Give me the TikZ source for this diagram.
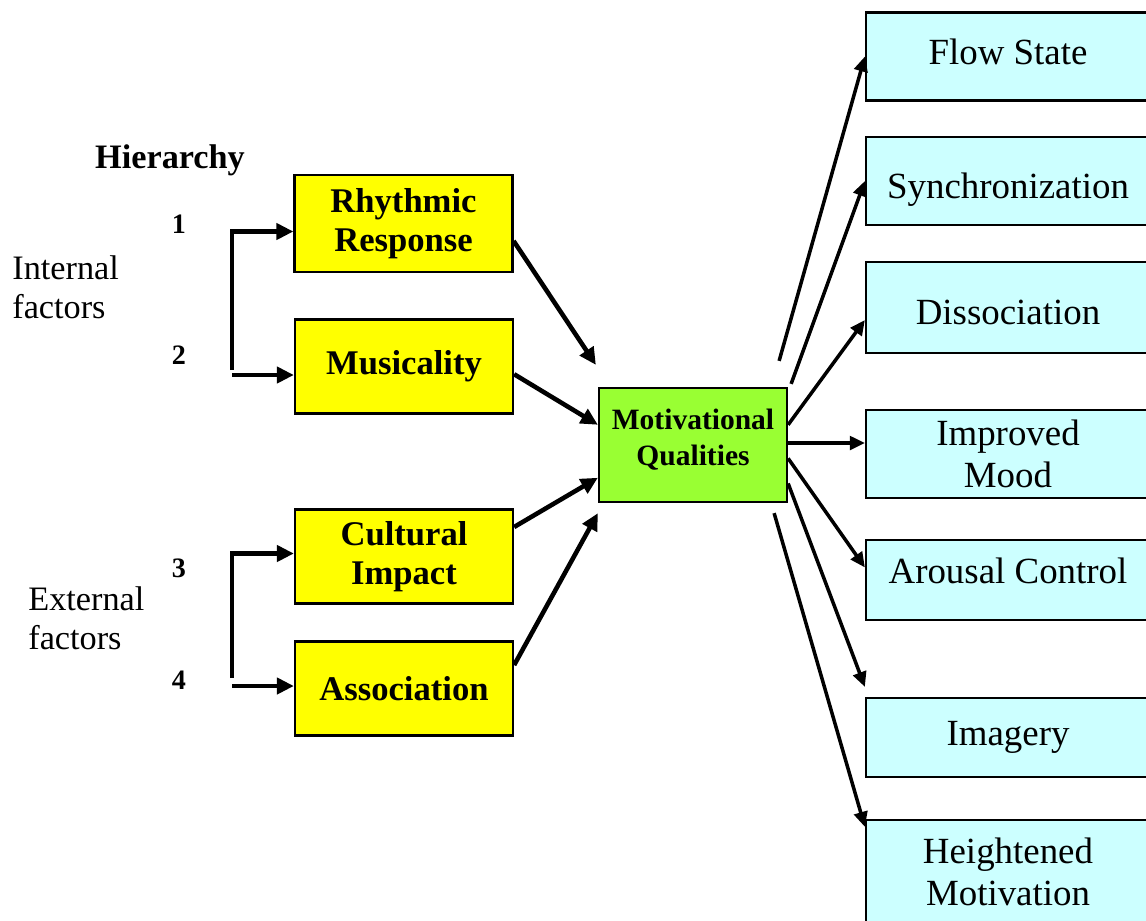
\documentclass[tikz,border=0pt]{standalone}
\usepackage{fontspec}
\setmainfont{Liberation Serif}
\usepackage{tikz}
\usetikzlibrary{arrows.meta,calc}
\definecolor{MQYellow}{RGB}{255,255,0}
\definecolor{MQGreen}{RGB}{153,255,51}
\definecolor{MQCyan}{RGB}{204,255,255}
\tikzset{
  ybox/.style={draw=black,line width=1.3pt,fill=MQYellow,minimum width=4.36cm,minimum height=1.88cm,align=center,font=\fontsize{19.7}{22}\selectfont\bfseries},
  gbox/.style={draw=black,line width=1.3pt,fill=MQGreen,minimum width=3.76cm,minimum height=2.28cm,align=center,font=\fontsize{16.8}{20.5}\selectfont\bfseries},
  cbox/.style={draw=black,line width=1.3pt,fill=MQCyan,minimum width=5.68cm,minimum height=1.76cm,align=center,font=\fontsize{21}{24}\selectfont},
  plain/.style={align=left,inner sep=0pt,font=\fontsize{19.5}{22}\selectfont},
  num/.style={inner sep=0pt,font=\fontsize{16}{18}\selectfont\bfseries},
  larr/.style={-{Triangle[length=0.34cm,width=0.32cm]},line width=2.6pt},
  rarr/.style={-{Triangle[length=0.3cm,width=0.27cm]},line width=2pt},
}
\begin{document}
\begin{tikzpicture}[x=0.02cm,y=-0.02cm]
    \useasboundingbox (0,0) rectangle (1146,920);
    \clip (0,0) rectangle (1146,920);
    \node[plain,font=\fontsize{19.5}{22}\selectfont\bfseries] (hier) at (170,160) {Hierarchy};
    \node[num] (n1) at (179,224) {1};
    \node[num] (n2) at (179,355) {2};
    \node[num] (n3) at (179,568) {3};
    \node[num] (n4) at (179,680) {4};
    \node[plain,anchor=west] (intf) at (12,287) {Internal\\factors};
    \node[plain,anchor=west] (extf) at (28,618) {External\\factors};
    \node[ybox,minimum height=1.94cm] (rr)  at (403.5,223.5) {Rhythmic\\Response};
    \node[ybox] (mus) at (404,366.5) {Musicality};
    \node[ybox] (cul) at (404,556.5) {Cultural\\Impact};
    \node[ybox] (asc) at (404,688.5) {Association};
    \node[gbox,text height=1.2cm,text depth=0.38cm] (mq)  at (693,445) {Motivational\\Qualities};
    \node[cbox,text height=0.5cm,text depth=0.19cm] (flow) at (1008,56.5) {Flow State};
    \node[cbox,text height=0.75cm,text depth=0.06cm] (sync) at (1008,181) {Synchronization};
    \node[cbox,minimum height=1.82cm,text height=0.7cm,text depth=0.03cm] (diss) at (1008,307.5) {Dissociation};
    \node[cbox] (mood) at (1008,454) {Improved\\Mood};
    \node[cbox,minimum height=1.6cm,text height=0.5cm,text depth=0.37cm] (aro) at (1008,580) {Arousal Control};
    \node[cbox,minimum height=1.58cm] (img) at (1008,737.5) {Imagery};
    \node[cbox,minimum height=2.08cm] (hm) at (1008,872) {Heightened\\Motivation};
    \coordinate (b1) at (232,370);
    \coordinate (b2) at (232,375);
    \coordinate (b3) at (232,678);
    \coordinate (b4) at (232,686);
    \draw[larr] (b1) |- ($(rr.west)+(0,8)$);
    \draw[larr] (b2) -- (b2 -| mus.west);
    \draw[larr] (b3) |- ($(cul.west)+(0,-3)$);
    \draw[larr] (b4) -- (b4 -| asc.west);
    \draw[larr] (rr.-9) -- ($(mq.north west)+(-2,-22)$);
    \draw[larr] (mus.-4) -- (mq.168);
    \draw[larr] (cul.15) -- (mq.199);
    \draw[larr] (asc.12) -- ($(mq.south west)+(0,10)$);
    \draw[rarr] ($(mq.north east)+(-9,-26)$) -- (flow.west);
    \draw[rarr] ($(mq.north east)+(3,-3)$) -- (sync.west);
    \draw[rarr] (mq.12) -- (diss.185);
    \draw[rarr] ($(mq.east)+(0,-2)$) -- ($(mq.east -| mood.west)+(0,-2)$);
    \draw[rarr] (mq.-8) -- (aro.175);
    \draw[rarr] (mq.-22) -- ($(img.north west)+(0,-10)$);
    \draw[rarr] ($(mq.south east)+(-14,10)$) -- ($(hm.north west)+(0,8)$);
\end{tikzpicture}
\end{document}
